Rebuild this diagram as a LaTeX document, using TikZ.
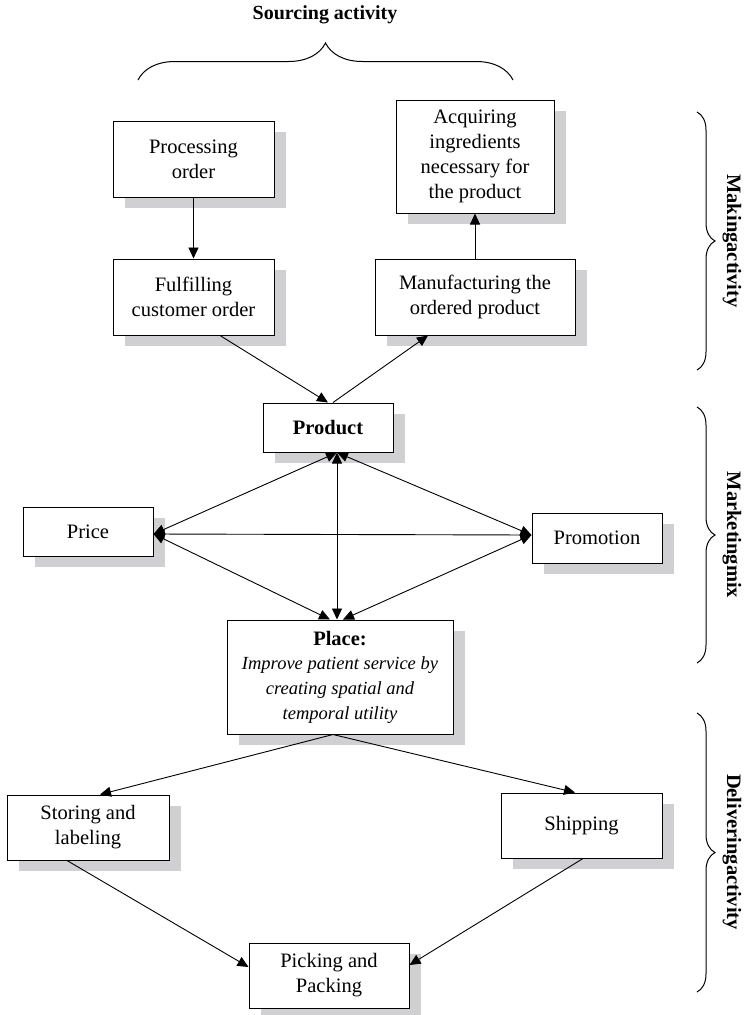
\documentclass[tikz,border=0pt]{standalone}
\usepackage{fontspec}
\setmainfont{Liberation Serif}
\usetikzlibrary{arrows.meta,shadows,decorations.pathreplacing,calc}
\definecolor{shadowgray}{RGB}{208,208,210}
\begin{document}
\begin{tikzpicture}[x=1pt,y=-1pt,
  box/.style={draw=black,line width=1pt,fill=white,inner sep=0pt,align=center,
    font=\fontsize{20.5}{25}\selectfont,
    drop shadow={shadow xshift=12pt,shadow yshift=-11pt,fill=shadowgray,opacity=1,draw=none}},
  conn/.style={line width=0.9pt,-{Triangle[length=11pt,width=10pt]}},
  biconn/.style={line width=0.9pt,{Triangle[length=11pt,width=10pt]}-{Triangle[length=11pt,width=10pt]}},
  bracedec/.style={line width=1pt,decorate,decoration={brace,amplitude=#1}},
  sidelabel/.style={rotate=-90,font=\bfseries\fontsize{20.5}{24}\selectfont}]
\useasboundingbox (0,0) rectangle (749,1015);

% sourcing brace and heading
\node[font=\bfseries\fontsize{20}{24}\selectfont] (srclabel) at (325,15) {Sourcing activity};
\draw[bracedec=37pt] (138,80) -- (513,80);

% making activity
\node[box,minimum width=161pt,minimum height=76pt] (proc) at (193.5,159) {Processing\\order};
\node[box,minimum width=161pt,minimum height=76pt] (fulfil) at (193.5,297) {Fulfilling\\customer order};
\node[box,minimum width=158pt,minimum height=113pt] (acq) at (475,156.5) {Acquiring\\ingredients\\necessary for\\the product};
\node[box,minimum width=200pt,minimum height=76pt] (manu) at (475,297) {Manufacturing the\\ordered product};

% marketing mix
\node[box,minimum width=130pt,minimum height=49pt] (product) at (328,427.5) {\textbf{Product}};
\node[box,minimum width=130pt,minimum height=49pt] (price) at (88,531.5) {Price};
\node[box,minimum width=130pt,minimum height=50pt] (promo) at (597,538) {Promotion};
\node[box,minimum width=226pt,minimum height=114pt] (place) at (340,677)
  {\textbf{Place:}\\[-1pt]{\fontsize{18.5}{25}\selectfont\itshape Improve patient service by}\\
   {\fontsize{18.5}{25}\selectfont\itshape creating spatial and}\\
   {\fontsize{18.5}{25}\selectfont\itshape temporal utility}};

% delivering activity
\node[box,minimum width=162pt,minimum height=65pt] (storing) at (88,827.5) {Storing and\\labeling};
\node[box,minimum width=161pt,minimum height=65pt] (ship) at (581.5,825.5) {Shipping};
\node[box,minimum width=160pt,minimum height=65pt] (pick) at (329,975.5) {Picking and\\Packing};

% connectors
\draw[conn] (proc.south) -- (fulfil.north);
\draw[conn] (manu.north -| acq.south) -- (acq.south);
\draw[conn] ($(fulfil.south)+(26.5,0)$) -- (product.north);
\draw[conn] ($(product.north)+(5,0)$) -- ($(manu.south)+(-47,0)$);

\coordinate (pb) at ($(product.south)+(9,0)$);
\coordinate (pe) at ($(price.east)+(0,2.5)$);
\coordinate (mw) at ($(promo.west)+(0,-3)$);
\draw[biconn] (pb) -- (pe);
\draw[biconn] (pb) -- (mw);
\draw[biconn] (pb) -- ($(place.north)+(-3,0)$);
\draw[biconn] (pe) -- (mw);
\draw[biconn] (pe) -- ($(place.north)+(-10,0)$);
\draw[biconn] (mw) -- ($(place.north)+(3,0)$);

\coordinate (plb) at ($(place.south)+(-7,0)$);
\draw[conn] (plb) -- ($(storing.north)+(12,0)$);
\draw[conn] (plb) -- ($(ship.north)+(-6.5,0)$);
\draw[conn] ($(storing.south)+(-21,0)$) -- ($(pick.west)+(0,-8.5)$);
\draw[conn] ($(ship.south)+(1.5,0)$) -- ($(pick.east)+(0,-10.5)$);

% side braces and labels
\draw[bracedec=18pt] (697,112) -- (697,370);
\node[sidelabel] (mklabel) at (732,241) {Makingactivity};
\draw[bracedec=18pt] (697,407) -- (697,663);
\node[sidelabel] (mxlabel) at (732,535) {Marketingmix};
\draw[bracedec=18pt] (697,713) -- (697,992);
\node[sidelabel] (dllabel) at (732,852) {Deliveringactivity};
\end{tikzpicture}
\end{document}
